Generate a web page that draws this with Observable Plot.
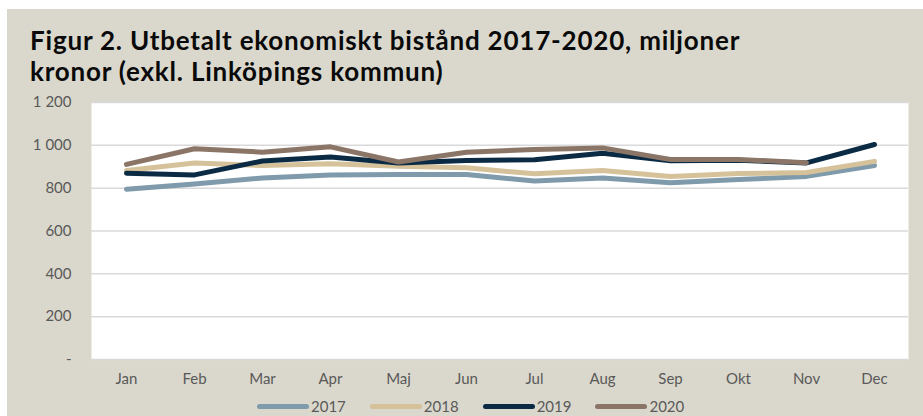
<!DOCTYPE html>
<html>
<head>
<meta charset="utf-8">
<script src="https://cdn.jsdelivr.net/npm/d3@7"></script>
<script src="https://cdn.jsdelivr.net/npm/@observablehq/plot@0.6"></script>
<style>
  html, body { margin: 0; padding: 0; background: #ffffff; width: 923px; height: 416px; overflow: hidden; }
  #bg { position: absolute; left: 7px; top: 9px; width: 916px; height: 407px; background: #dad8cc; }
  #title { position: absolute; left: 30px; top: 25px; font-family: Lato, sans-serif; font-weight: 700; font-size: 26px; line-height: 31px; color: #0a0a0a; letter-spacing: 0.8px; }
  #chart { position: absolute; left: 0; top: 92px; }
  #legend { position: absolute; left: 257px; top: 397px; display: flex; gap: 24px; font-family: Lato, sans-serif; font-size: 15px; color: #595959; }
  .item { display: flex; align-items: center; gap: 2px; }
  .sw { width: 52px; height: 5px; border-radius: 3px; }
</style>
</head>
<body>
<div id="bg"></div>
<div id="title">Figur 2. Utbetalt ekonomiskt bistånd 2017-2020, miljoner<br>kronor (exkl. Linköpings kommun)</div>
<div id="chart"></div>
<div id="legend"></div>
<script>
const months = ["Jan","Feb","Mar","Apr","Maj","Jun","Jul","Aug","Sep","Okt","Nov","Dec"];
const years = ["2017","2018","2019","2020"];
const v2017 = [795, 820, 848, 862, 864, 864, 833, 848, 825, 840, 855, 906];
const v2018 = [883, 917, 906, 914, 902, 895, 867, 883, 855, 868, 873, 925];
const v2019 = [870, 862, 927, 945, 917, 929, 933, 963, 928, 930, 918, 1004];
const v2020 = [911, 984, 968, 993, 922, 968, 981, 988, 934, 934, 919, null];
const yTicks = [0, 200, 400, 600, 800, 1000, 1200];
const yTickLabels = ["-", "200", "400", "600", "800", "1 000", "1 200"];
const colors = ["#7f9aab", "#d5c29a", "#0b2b45", "#8a7566"];

const series = [v2017, v2018, v2019, v2020];
const data = [];
years.forEach((y, i) => months.forEach((m, j) => {
  data.push({year: y, month: m, value: series[i][j]});
}));

const chart = Plot.plot({
  width: 923,
  height: 300,
  marginLeft: 91,
  marginRight: 15,
  marginTop: 10,
  marginBottom: 33,
  style: {background: "transparent", fontFamily: "Lato, sans-serif", fontSize: "15px", color: "#595959"},
  x: {type: "point", domain: months, padding: 0.5, label: null},
  y: {domain: [0, 1200], label: null},
  color: {domain: years, range: colors},
  marks: [
    Plot.frame({fill: "white", stroke: null}),
    Plot.ruleY(yTicks, {stroke: "#d9d9d9", strokeWidth: 1.5}),
    Plot.axisY({ticks: yTicks, tickFormat: (d) => yTickLabels[yTicks.indexOf(d)], tickSize: 0, tickPadding: 20, label: null}),
    Plot.axisX({tickSize: 0, tickPadding: 14, label: null, style: {letterSpacing: "0.6px"}}),
    Plot.line(data, {x: "month", y: "value", z: "year", stroke: "year", strokeWidth: 5, strokeLinecap: "round", strokeLinejoin: "round", defined: d => d.value != null})
  ]
});
document.getElementById("chart").appendChild(chart);

const legend = document.getElementById("legend");
years.forEach((y, i) => {
  const it = document.createElement("div");
  it.className = "item";
  const sw = document.createElement("div");
  sw.className = "sw";
  sw.style.background = colors[i];
  const t = document.createElement("span");
  t.textContent = y;
  it.appendChild(sw); it.appendChild(t);
  legend.appendChild(it);
});
</script>
</body>
</html>
